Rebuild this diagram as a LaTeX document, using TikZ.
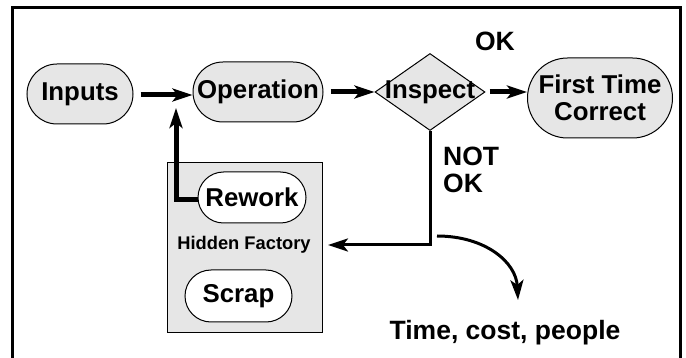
\documentclass[tikz,border=0pt]{standalone}
\usepackage{fontspec}
\setmainfont{Liberation Sans}
\usetikzlibrary{shapes.geometric,shapes.misc,arrows.meta}
\definecolor{panelgray}{HTML}{E6E6E6}
\begin{document}
\begin{tikzpicture}[x=1pt,y=-1pt,
  every node/.style={font=\bfseries\fontsize{25.8}{27}\selectfont},
  pill/.style={draw,line width=1pt,rounded rectangle,inner sep=0pt,align=center},
  graypill/.style={pill,fill=panelgray},
  whitepill/.style={pill,fill=white},
  flow/.style={line width=5pt,-{Stealth[length=20pt,width=13pt,inset=5pt]}},
  branch/.style={line width=3pt,-{Stealth[length=20pt,width=13pt,inset=5pt]}},
  bigtext/.style={font=\bfseries\fontsize{26.5}{27}\selectfont,align=left},
]
\useasboundingbox (0,0) rectangle (686,358);
% outer frame, open at the bottom
\draw[line width=2.8pt] (12.5,370) -- (12.5,7.5) -- (680.5,7.5) -- (680.5,370);

% main flow
\node[graypill,minimum width=106pt,minimum height=60pt] (inputs) at (80,94) {Inputs};
\node[graypill,minimum width=130pt,minimum height=60pt] (operation) at (258,92) {Operation};
\node[draw,line width=1pt,diamond,fill=panelgray,minimum width=110pt,minimum height=77pt,inner sep=0pt] (inspect) at (430,92) {};
\node at (inspect.center) {Inspect};
\node[graypill,minimum width=145pt,minimum height=80pt] (ftc) at (600,98) {First Time\\Correct};

\draw[flow] (inputs.east) ++(7,1) coordinate (a1) -- (a1 -| operation.west);
\draw[flow] (operation.east) ++(7,0) coordinate (a2) -- (a2 -| inspect.west);
\draw[flow] (inspect.east) ++(4,0) coordinate (a3) -- (a3 -| ftc.west);

\node[bigtext] (ok) at (495,41) {OK};
\node[bigtext,anchor=north west,inner sep=0pt] (notok) at (443,147) {NOT\\OK};

% hidden factory panel
\node[draw,line width=0.8pt,fill=panelgray,minimum width=155pt,minimum height=170pt,inner sep=0pt] (hidden) at (244.5,247) {};
\node[whitepill,minimum width=108pt,minimum height=51pt] (rework) at (252,197.5) {Rework};
\node[font=\bfseries\fontsize{18.3}{20}\selectfont] (hflabel) at (244,245) {Hidden Factory};
\node[whitepill,minimum width=107pt,minimum height=52pt] (scrap) at (238.5,296) {Scrap};

% rework loop back into the flow
\coordinate (rwtip) at (176,108);
\draw[line width=5pt,-{Stealth[length=20pt,width=13pt,inset=5pt]}]
  (rework.west |- 0,200) -- (176,200) -- (rwtip);

% rejected parts go to the hidden factory
\coordinate (corner) at (432,245);
\draw[branch] (inspect.south) -- (inspect.south |- corner) -- (328,245);

% cost consequence
\node[bigtext] (cost) at (505,333) {Time, cost, people};
\coordinate (cstart) at (437,236);
\draw[line width=3pt,-{Stealth[length=20pt,width=13pt,inset=5pt]}]
  (cstart) .. controls (485,236) and (516,262) .. (518,300);
\end{tikzpicture}
\end{document}
